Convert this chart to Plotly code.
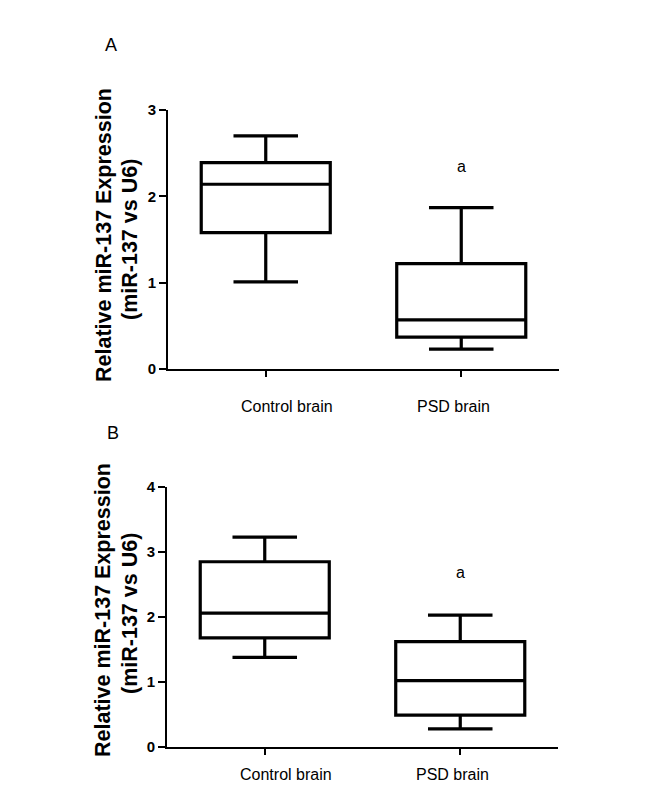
import plotly.graph_objects as go

categories = ["Control brain", "PSD brain"]

# Panel A values
a_min = [1.01, 0.23]
a_q1 = [1.58, 0.37]
a_med = [2.14, 0.57]
a_q3 = [2.39, 1.22]
a_max = [2.70, 1.87]

# Panel B values
b_min = [1.38, 0.28]
b_q1 = [1.68, 0.49]
b_med = [2.06, 1.02]
b_q3 = [2.85, 1.62]
b_max = [3.23, 2.03]

a_ticks = [0, 1, 2, 3]
b_ticks = [0, 1, 2, 3, 4]
panel_labels = ["A", "B"]
sig_label = "a"
y_title_1 = "Relative miR-137 Expression"
y_title_2 = "(miR-137 vs U6)"

# page body has an 8px margin; figure sized to fit inside the window
OFF = 8
W, H = 655 - 2 * OFF, 792 - 2 * OFF
FONT = "Arial, Liberation Sans, sans-serif"


def fx(x):
    return (x - OFF) / W


def fy(y):
    return 1 - (y - OFF) / H


fig = go.Figure()

for (mn, q1, md, q3, mx, xa, ya) in [
    (a_min, a_q1, a_med, a_q3, a_max, "x", "y"),
    (b_min, b_q1, b_med, b_q3, b_max, "x2", "y2"),
]:
    fig.add_trace(go.Box(
        x=categories, q1=q1, median=md, q3=q3,
        lowerfence=mn, upperfence=mx,
        width=0.66, whiskerwidth=0.5,
        line=dict(color="black", width=3.2),
        fillcolor="white", boxpoints=False,
        xaxis=xa, yaxis=ya, showlegend=False, hoverinfo="skip",
    ))

axis_common = dict(showgrid=False, zeroline=False, showline=True,
                   linecolor="black", linewidth=2, ticks="outside",
                   tickcolor="black", tickwidth=2, automargin=False)
tickfont = dict(family=FONT, size=15, color="black", weight="bold")

fig.update_layout(
    width=W, height=H,
    margin=dict(l=0, r=0, t=0, b=0),
    paper_bgcolor="white", plot_bgcolor="rgba(0,0,0,0)",
    font=dict(family=FONT, color="black"),
    xaxis=dict(domain=[fx(168), fx(559)], anchor="y", type="category",
               range=[-0.5, 1.5], showticklabels=False, ticklen=6,
               **axis_common),
    yaxis=dict(domain=[fy(369), fy(110)], anchor="x", range=[0, 3],
               tickvals=a_ticks, ticklen=7, tickfont=tickfont,
               **axis_common),
    xaxis2=dict(domain=[fx(167), fx(558)], anchor="y2", type="category",
                range=[-0.5, 1.5], showticklabels=False, ticklen=6,
                **axis_common),
    yaxis2=dict(domain=[fy(747), fy(487)], anchor="x2", range=[0, 4],
                tickvals=b_ticks, ticklen=7, tickfont=tickfont,
                **axis_common),
)

ann = []
# significance markers
ann.append(dict(x=categories[1], y=2.35, xref="x", yref="y", text=sig_label,
                showarrow=False, xanchor="center", yanchor="middle",
                font=dict(size=16, family=FONT)))
ann.append(dict(x=categories[1], y=2.68, xref="x2", yref="y2", text=sig_label,
                showarrow=False, xanchor="center", yanchor="middle",
                font=dict(size=16, family=FONT)))

# category labels
for xr, yr, ysh in [("x", "y", -37), ("x2", "y2", -27)]:
    for cat, xsh in zip(categories, [21, -8]):
        ann.append(dict(x=cat, y=0, xref=xr, yref=yr, text=cat, showarrow=False,
                        xshift=xsh, yshift=ysh, xanchor="center", yanchor="middle",
                        font=dict(size=16, family=FONT)))

# panel letters
for lab, (px, py) in zip(panel_labels, [(111, 45), (113, 433)]):
    ann.append(dict(x=fx(px), y=fy(py), xref="paper", yref="paper", text=lab,
                    showarrow=False, xanchor="center", yanchor="middle",
                    font=dict(size=18, family=FONT)))

# y titles
for (x1, y1, x2, y2) in [(104, 235, 130, 240), (103, 610, 130, 614)]:
    ann.append(dict(x=fx(x1), y=fy(y1), xref="paper", yref="paper", text=y_title_1,
                    textangle=-90, showarrow=False, xanchor="center", yanchor="middle",
                    font=dict(size=21.5, family=FONT, weight="bold")))
    ann.append(dict(x=fx(x2), y=fy(y2), xref="paper", yref="paper", text=y_title_2,
                    textangle=-90, showarrow=False, xanchor="center", yanchor="middle",
                    font=dict(size=21.5, family=FONT, weight="bold")))

fig.update_layout(annotations=ann)

fig.write_html("out.html")
